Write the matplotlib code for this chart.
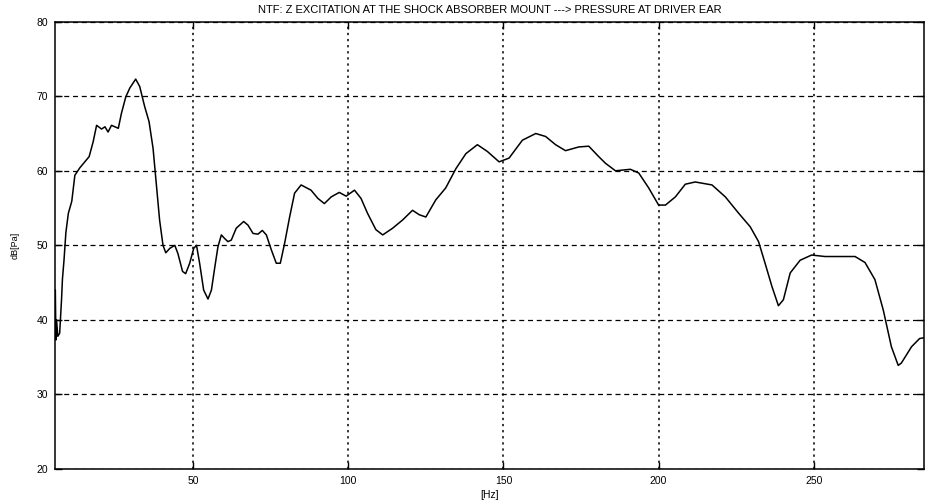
import matplotlib
matplotlib.use("Agg")
import matplotlib.pyplot as plt

# NTF trace (frequency in Hz, level in dB)
freq_hz = [5.6, 5.8, 6.0, 6.4, 7.0, 7.6, 7.9, 8.4, 9.0, 9.8, 10.9, 11.9, 13.5,
           16.5, 17.8, 18.9, 20.5, 21.6, 22.6, 23.7, 24.8, 25.9, 26.9, 28.3,
           29.6, 31.5, 32.8, 34.4, 35.8, 37.1, 38.2, 39.2, 40.3, 41.2, 42.5,
           44.1, 45.1, 46.6, 47.6, 48.9, 50.2, 51.1, 52.1, 53.4, 54.8, 55.9,
           57.0, 58.0, 59.1, 60.2, 61.2, 62.3, 63.9, 66.3, 67.7, 69.3, 70.9,
           72.3, 73.6, 75.2, 76.8, 78.1, 79.5, 81.1, 82.7, 84.8, 88.0, 90.2,
           92.3, 94.5, 97.1, 99.3, 102.0, 104.1, 106.2, 108.9, 111.1, 114.3,
           117.5, 120.7, 122.9, 125.0, 128.2, 131.4, 134.7, 137.9, 141.6,
           144.8, 148.6, 151.8, 156.1, 160.4, 163.6, 166.8, 170.0, 174.3,
           177.5, 180.7, 182.9, 186.1, 190.9, 193.6, 196.8, 200.0, 202.2,
           205.4, 208.6, 211.8, 217.2, 221.5, 225.8, 229.5, 232.2, 234.3,
           236.5, 238.6, 240.2, 242.4, 245.6, 249.3, 253.6, 263.3, 266.5,
           269.7, 272.4, 275.0, 277.2, 278.2, 281.5, 284.1, 285.5]
level_db = [44.0, 37.3, 40.0, 37.8, 38.2, 42.7, 45.5, 48.0, 51.7, 54.3, 55.9,
            59.4, 60.4, 61.9, 63.9, 66.1, 65.6, 65.9, 65.2, 66.1, 65.9, 65.7,
            67.7, 69.9, 71.1, 72.3, 71.3, 68.6, 66.6, 63.0, 57.9, 53.4, 50.0,
            49.0, 49.6, 50.0, 48.9, 46.5, 46.2, 47.6, 49.6, 50.0, 47.6, 44.0,
            42.8, 44.0, 47.1, 49.8, 51.4, 50.9, 50.5, 50.7, 52.3, 53.2, 52.7,
            51.6, 51.5, 52.0, 51.4, 49.4, 47.6, 47.6, 50.3, 53.8, 57.0, 58.1,
            57.4, 56.3, 55.6, 56.5, 57.1, 56.6, 57.4, 56.3, 54.3, 52.1, 51.4,
            52.3, 53.4, 54.7, 54.1, 53.8, 56.1, 57.7, 60.3, 62.3, 63.5, 62.6,
            61.2, 61.7, 64.1, 65.0, 64.6, 63.5, 62.7, 63.2, 63.3, 61.9, 61.0,
            60.0, 60.2, 59.7, 57.7, 55.4, 55.4, 56.5, 58.2, 58.5, 58.1, 56.5,
            54.3, 52.5, 50.5, 47.6, 44.5, 41.9, 42.7, 46.3, 48.0, 48.7, 48.5,
            48.5, 47.7, 45.4, 41.3, 36.4, 33.9, 34.2, 36.4, 37.5, 37.6]

x_ticks = [50, 100, 150, 200, 250]
y_ticks = [20, 30, 40, 50, 60, 70, 80]
title = "NTF: Z EXCITATION AT THE SHOCK ABSORBER MOUNT ---> PRESSURE AT DRIVER EAR"

plt.rcParams["font.family"] = ["Liberation Sans", "DejaVu Sans"]

fig = plt.figure(figsize=(9.26, 5.01), dpi=100)
ax = fig.add_axes([0.0594, 0.0639, 0.9384, 0.8928])

ax.plot(freq_hz, level_db, color="black", lw=1.1)

ax.set_xlim(5.5, 285.5)
ax.set_ylim(20, 80)
ax.set_xticks(x_ticks)
ax.set_yticks(y_ticks)
ax.tick_params(direction="in", length=5, width=1, labelsize=7.5, pad=5,
               top=True, right=True)

# vertical grid dotted, horizontal grid dashed
ax.xaxis.grid(True, linestyle=(0, (1.5, 2.5)), color="black", lw=1.1)
ax.yaxis.grid(True, linestyle=(0, (4, 3)), color="black", lw=0.9)
for sp in ax.spines.values():
    sp.set_linewidth(1.1)

ax.set_title(title, fontsize=8, pad=6)
ax.set_xlabel("[Hz]", fontsize=7.5, labelpad=3)
ax.set_ylabel("dB[Pa]", fontsize=6.5, labelpad=12)

fig.savefig("out.png", dpi=100)
